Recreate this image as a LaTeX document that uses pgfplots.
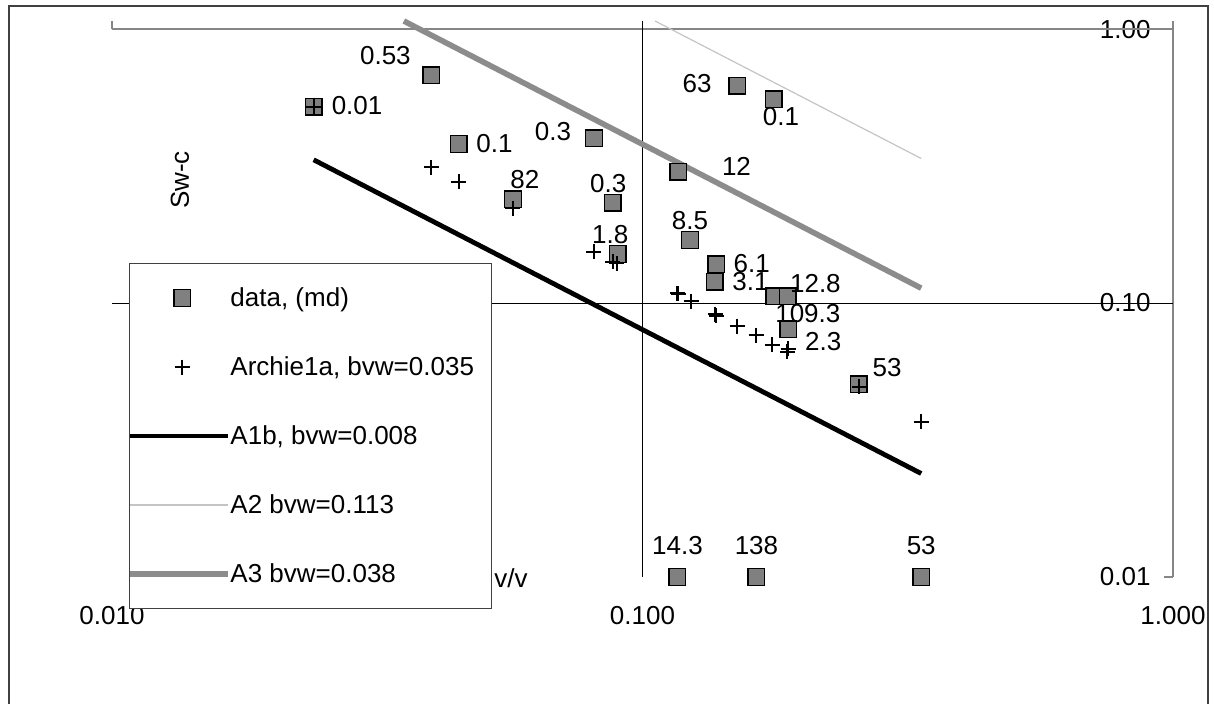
\documentclass[border=0pt]{standalone}
\usepackage{fontspec}
\setmainfont{Liberation Sans}
\usepackage{pgfplots}
\usepackage{pgfplotstable}
\pgfplotsset{compat=1.18}

\definecolor{sqgray}{HTML}{808080}
\definecolor{a3gray}{HTML}{8C8C8C}
\definecolor{a2gray}{HTML}{C4C4C4}
\definecolor{axgray}{HTML}{868686}
\definecolor{framec}{HTML}{404040}

\pgfplotsset{
  lineleg/.style={legend image code/.code={\path[draw=none,fill=none] (0pt,-1pt) rectangle (49pt,1pt);
    \draw[##1, overlay] (0pt,0pt) -- (49pt,0pt);}},
  markleg/.style={legend image code/.code={\path[draw=none,fill=none] (0pt,-1pt) rectangle (49pt,1pt);
    \draw[mark repeat=2,mark phase=2,##1] plot coordinates {(0pt,0pt)(26pt,0pt)(49pt,0pt)};}},
}

% data squares
\pgfplotstableread{
x y
0.0240 0.5205
0.0400 0.679
0.0450 0.3804
0.0570 0.239
0.0810 0.399
0.0879 0.2323
0.0898 0.151
0.1169 0.3014
0.1229 0.1698
0.1377 0.1384
0.1367 0.1196
0.1773 0.1059
0.1879 0.1059
0.1882 0.0802
0.2554 0.0505
0.1508 0.621
0.1767 0.554
0.1164 0.01
0.1640 0.01
0.3353 0.01
}\sqdata

% Archie1a, bvw=0.035
\pgfplotstableread{
x y
0.0240 0.5205
0.0400 0.3128
0.0450 0.2772
0.0570 0.2216
0.0809 0.1539
0.0878 0.1415
0.0895 0.1400
0.1164 0.1085
0.1168 0.1079
0.1235 0.1017
0.1370 0.0909
0.1377 0.0900
0.1508 0.0824
0.1637 0.0764
0.1757 0.0703
0.1876 0.0664
0.1882 0.0680
0.2563 0.0495
0.3353 0.0368
}\archie

\begin{document}
\fontsize{13}{15.6}\selectfont
\begin{tikzpicture}
\useasboundingbox (0,0) rectangle (607pt,351.5pt);
\draw[framec, line width=0.8pt] (4.5pt,-10pt) rectangle (604pt,348.5pt);
\begin{axis}[
  at={(56pt,63pt)}, anchor=south west,
  scale only axis, width=530.5pt, height=278pt,
  xmode=log, ymode=log,
  xmin=0.01, xmax=1, ymin=0.01, ymax=1.07,
  clip=false,
  axis line style={draw=none},
  tick style={draw=none},
  major tick length=0pt, minor tick length=0pt,
  xtick={0.01,0.1,1}, xticklabels={0.010,0.100,1.000},
  ytick={0.01,0.1,1}, yticklabels={0.01,0.10,1.00},
  yticklabel pos=right,
  xticklabel style={anchor=center, inner sep=0pt, yshift=-19.5pt},
  yticklabel style={anchor=east, inner sep=0pt, xshift=-11pt},
  xlabel={v/v},
  xlabel style={at={(axis description cs:0.376,-0.002)}, anchor=center, inner sep=0pt},
  ylabel={Sw-c},
  ylabel style={at={(axis description cs:0.064,0.714)}, anchor=center, inner sep=0pt},
  legend style={at={(axis description cs:0.016,0.5647)}, anchor=north west,
    draw=framec, line width=0.5pt, fill=white,
    inner xsep=0.5pt, inner ysep=12pt, row sep=24pt, column sep=1pt,
    nodes={inner sep=0pt, text height=9.5pt, text depth=1pt}},
  legend cell align=left,
]
% axis lines, ticks and reference lines
\addplot[forget plot, axgray, line width=1pt] coordinates {(0.01,1) (1,1)};
\addplot[forget plot, axgray, line width=0.7pt] coordinates {(1,0.01) (1,1.07)};
\addplot[forget plot, axgray, line width=0.8pt] coordinates {(0.01,1) (0.01,1.07)};
\addplot[forget plot, axgray, line width=0.7pt] coordinates {(0.9617,1) (1,1)};
\addplot[forget plot, axgray, line width=0.7pt] coordinates {(0.9617,0.01) (1,0.01)};
\addplot[forget plot, black, line width=0.5pt] coordinates {(0.1,0.01) (0.1,1.07)};
\addplot[forget plot, black, line width=0.5pt] coordinates {(0.01,0.1) (1,0.1)};

% series
\addplot[only marks, mark=square*, mark size=4.15pt,
  mark options={fill=sqgray, draw=black, line width=0.7pt}, markleg]
  table[x=x, y=y] {\sqdata};
\addlegendentry{\makebox[130pt][l]{data, (md)}}

\addplot[only marks, mark=+, mark size=3.75pt,
  mark options={draw=black, line width=1pt}, markleg]
  table[x=x, y=y] {\archie};
\addlegendentry{\makebox[130pt][l]{Archie1a, bvw=0.035}}

\addplot[black, line width=2.4pt, lineleg]
  coordinates {(0.0240,0.3333) (0.3353,0.02386)};
\addlegendentry{\makebox[130pt][l]{A1b, bvw=0.008}}

\addplot[a2gray, line width=0.6pt, lineleg]
  coordinates {(0.1056,1.07) (0.3353,0.337)};
\addlegendentry{\makebox[130pt][l]{A2 bvw=0.113}}

\addplot[a3gray, line width=2.8pt, lineleg]
  coordinates {(0.0355,1.07) (0.3353,0.1133)};
\addlegendentry{\makebox[130pt][l]{A3 bvw=0.038}}

% data labels
\addplot[forget plot, only marks, mark=none,
  nodes near coords, point meta=explicit symbolic,
  visualization depends on={\thisrow{xs} \as \labxs},
  visualization depends on={\thisrow{ys} \as \labys},
  every node near coord/.append style={anchor=center, inner sep=0pt,
    xshift=\labxs pt, yshift=\labys pt, text=black}]
  table[x=x, y=y, meta=lab] {
x y xs ys lab
0.0240 0.5205 21.7 0.5 0.01
0.0400 0.679 -23 10 0.53
0.0450 0.3804 18 0.5 0.1
0.0570 0.239 5.9 9.7 82
0.0810 0.399 -20.5 3.3 0.3
0.0879 0.2323 -2.3 9.7 0.3
0.0898 0.151 -3.7 9.5 1.8
0.1169 0.3014 29 2.5 12
0.1229 0.1698 0 10 8.5
0.1377 0.1384 17.8 0.5 6.1
0.1367 0.1196 18 0 3.1
0.1773 0.1059 16.7 -8.5 109.3
0.1879 0.1059 13.8 6.5 12.8
0.1882 0.0802 17.5 -6.2 2.3
0.2554 0.0505 14.3 8.2 53
0.1508 0.621 -20 1.2 63
0.1767 0.554 3.7 -8.7 0.1
0.1164 0.01 0 15.5 14.3
0.1640 0.01 0 15.5 138
0.3353 0.01 0 15.5 53
};
\end{axis}
\end{tikzpicture}
\end{document}
